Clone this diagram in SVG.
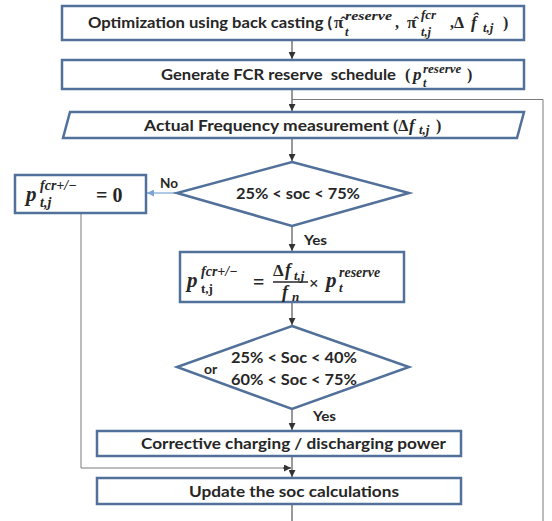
<svg xmlns="http://www.w3.org/2000/svg" width="552" height="521" viewBox="0 0 552 521">
<defs>
<style>
.box{fill:#fff;stroke:#51709a;stroke-width:2.5}
.t{font-family:Lato,"Open Sans","Liberation Sans",sans-serif;font-weight:bold;font-size:16px;fill:#262626}
.m{font-family:"Liberation Serif","DejaVu Serif",serif;font-weight:bold;font-style:italic;fill:#262626}
.mn{font-family:"Liberation Serif","DejaVu Serif",serif;font-weight:bold;fill:#262626}
.c{stroke:#333;stroke-width:1;fill:none}
.g{stroke:#7a7a7a;stroke-width:1;fill:none}
.lbl{font-family:Lato,"Open Sans","Liberation Sans",sans-serif;font-weight:bold;font-size:14px;fill:#262626}
</style>
<marker id="a" viewBox="0 0 10 10" refX="10" refY="5" markerWidth="7" markerHeight="7" markerUnits="userSpaceOnUse" orient="auto"><path d="M0,0L10,5L0,10z" fill="#333"/></marker>
<marker id="ab" viewBox="0 0 10 10" refX="10" refY="5" markerWidth="7" markerHeight="7" markerUnits="userSpaceOnUse" orient="auto"><path d="M0,0L10,5L0,10z" fill="#7ba3d6"/></marker>
</defs>

<g id="connectors">
<line class="c" x1="292" y1="40" x2="292" y2="59" marker-end="url(#a)"/>
<line class="c" x1="292" y1="89" x2="292" y2="111" marker-end="url(#a)"/>
<polyline class="g" points="292,99.5 543,99.5 543,521"/>
<line class="c" x1="292" y1="138" x2="292" y2="161" marker-end="url(#a)"/>
<line x1="177" y1="193" x2="147" y2="193" stroke="#7ba3d6" stroke-width="1.2" marker-end="url(#ab)"/>
<line class="c" x1="292" y1="226" x2="292" y2="251" marker-end="url(#a)"/>
<line class="c" x1="292" y1="303" x2="292" y2="325" marker-end="url(#a)"/>
<line class="c" x1="292" y1="409" x2="292" y2="430" marker-end="url(#a)"/>
<line class="c" x1="292" y1="456" x2="292" y2="477" marker-end="url(#a)"/>
<polyline class="g" points="81,213 81,468 284,468"/>
<line class="c" x1="283" y1="468" x2="291" y2="468" marker-end="url(#a)"/>
<line class="c" x1="292" y1="504" x2="292" y2="521"/>
<text class="lbl" x="160" y="188" textLength="18" lengthAdjust="spacingAndGlyphs">No</text>
<text class="lbl" x="304" y="245" textLength="23" lengthAdjust="spacingAndGlyphs">Yes</text>
<text class="lbl" x="313" y="421" textLength="23" lengthAdjust="spacingAndGlyphs">Yes</text>
</g>

<g id="optimization">
<rect class="box" x="62" y="6" width="462" height="34"/>
<text class="t" x="88" y="28" textLength="244" lengthAdjust="spacingAndGlyphs">Optimization using back casting (</text>
<text class="mn" x="334" y="28" font-size="17">π̂</text>
<text class="m" x="345" y="20" font-size="12.5" textLength="47" lengthAdjust="spacingAndGlyphs">reserve</text>
<text class="m" x="345" y="36" font-size="12.5">t</text>
<text class="mn" x="395" y="28" font-size="16">,</text>
<text class="mn" x="407" y="28" font-size="17">π̂</text>
<text class="m" x="421" y="19" font-size="13">fcr</text>
<text class="m" x="421" y="36" font-size="12.5">t,j</text>
<text class="mn" x="450" y="28" font-size="16">,Δ</text>
<text class="m" x="471" y="28" font-size="17">f̂</text>
<text class="m" x="483" y="32" font-size="13">t,j</text>
<text class="mn" x="503" y="28" font-size="16">)</text>
</g>

<g id="schedule">
<rect class="box" x="62" y="60" width="462" height="29"/>
<text class="t" x="161" y="80" textLength="243" lengthAdjust="spacingAndGlyphs" xml:space="preserve">Generate FCR reserve  schedule  </text>
<text class="mn" x="405" y="80" font-size="16">(</text>
<text class="m" x="413" y="80" font-size="17">p</text>
<text class="m" x="423" y="73" font-size="13">reserve</text>
<text class="m" x="423" y="87" font-size="12">t</text>
<text class="mn" x="467" y="80" font-size="16">)</text>
</g>

<g id="measurement">
<polygon class="box" points="70,112 524,112 517,138 63,138"/>
<text class="t" x="144" y="131" textLength="245" lengthAdjust="spacingAndGlyphs">Actual Frequency measurement</text>
<text class="mn" x="393" y="131" font-size="16">(Δ</text>
<text class="m" x="409" y="131" font-size="17">f</text>
<text class="m" x="419" y="134" font-size="13">t,j</text>
<text class="mn" x="436" y="131" font-size="16">)</text>
</g>

<g id="soc-check">
<polygon class="box" points="292,162 409,193 292,226 177,193"/>
<text class="t" x="236" y="199" textLength="124" lengthAdjust="spacingAndGlyphs">25% &lt; soc &lt; 75%</text>
</g>

<g id="zero-power">
<rect class="box" x="15" y="175" width="131" height="38"/>
<text class="m" x="26" y="201" font-size="21">p</text>
<text class="m" x="40" y="190" font-size="14">fcr+/−</text>
<text class="m" x="40" y="207" font-size="14">t,j</text>
<text class="mn" x="96" y="202" font-size="20">= 0</text>
</g>

<g id="fcr-power">
<rect class="box" x="180" y="252" width="224" height="50"/>
<text class="m" x="187" y="287" font-size="21">p</text>
<text class="m" x="201" y="276" font-size="14">fcr+/−</text>
<text class="mn" x="201" y="293" font-size="13">t,j</text>
<text class="mn" x="253" y="289" font-size="20">=</text>
<text class="mn" x="273" y="276" font-size="17">Δ</text>
<text class="m" x="285" y="276" font-size="18">f</text>
<text class="m" x="294" y="280" font-size="13">t,j</text>
<line x1="273" y1="282" x2="308" y2="282" stroke="#262626" stroke-width="1.4"/>
<text class="m" x="282" y="298" font-size="18">f</text>
<text class="m" x="292" y="301" font-size="13">n</text>
<text class="mn" x="309" y="289" font-size="17">×</text>
<text class="m" x="326" y="287" font-size="21">p</text>
<text class="m" x="339" y="277" font-size="14">reserve</text>
<text class="m" x="339" y="292" font-size="13">t</text>
</g>

<g id="soc-range">
<polygon class="box" points="292,326 409,367 292,409 177,367"/>
<text class="t" x="231" y="363" textLength="126" lengthAdjust="spacingAndGlyphs">25% &lt; Soc &lt; 40%</text>
<text class="t" x="231" y="385" textLength="126" lengthAdjust="spacingAndGlyphs">60% &lt; Soc &lt; 75%</text>
<text class="lbl" x="204" y="374">or</text>
</g>

<g id="corrective">
<rect class="box" x="97" y="431" width="364" height="25"/>
<text class="t" x="141" y="449" textLength="305" lengthAdjust="spacingAndGlyphs">Corrective charging / discharging power</text>
</g>

<g id="update">
<rect class="box" x="97" y="478" width="364" height="26"/>
<text class="t" x="189" y="497" textLength="210" lengthAdjust="spacingAndGlyphs">Update the soc calculations</text>
</g>
</svg>
